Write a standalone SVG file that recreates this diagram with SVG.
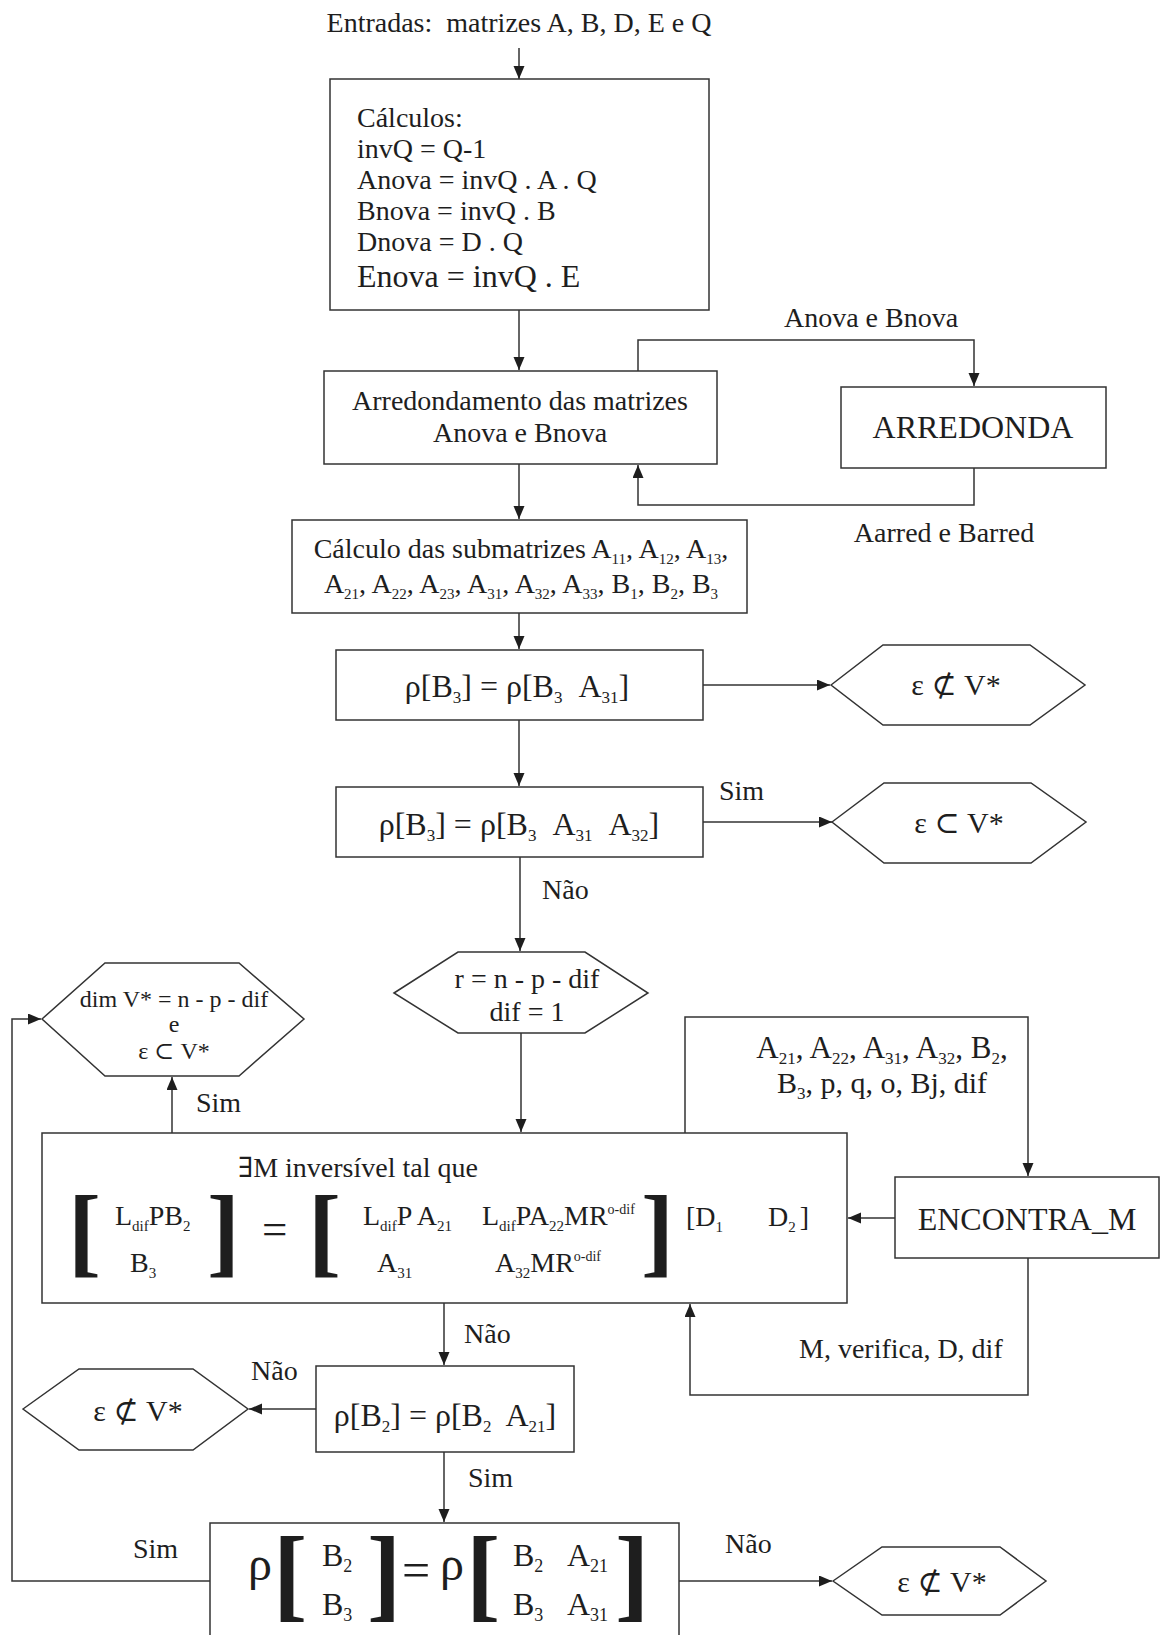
<svg xmlns="http://www.w3.org/2000/svg" width="1161" height="1635" viewBox="0 0 1161 1635">
<style>
svg{font-size:28px}
text{font-family:"Liberation Serif","DejaVu Serif",serif;fill:#1e1e1e}
.box{fill:#fff;stroke:#333;stroke-width:1.5}
.ln{fill:none;stroke:#333;stroke-width:1.5}
.br{font-weight:bold;font-size:99px}
.br2{font-weight:bold;font-size:103px}
.m{text-anchor:middle}
.rt{font-size:32px}
</style>
<defs>
<marker id="ah" markerUnits="userSpaceOnUse" markerWidth="14" markerHeight="12" refX="13" refY="5.5" orient="auto">
<path d="M0,0 L13,5.5 L0,11 z" fill="#1e1e1e"/>
</marker>
</defs>
<rect width="1161" height="1635" fill="#fff"/>

<g id="connectors">
<path class="ln" d="M519,48 V79" marker-end="url(#ah)"/>
<path class="ln" d="M519,310 V370" marker-end="url(#ah)"/>
<path class="ln" d="M638,371 V340 H974 V386" marker-end="url(#ah)"/>
<path class="ln" d="M974,468 V505 H638 V465" marker-end="url(#ah)"/>
<path class="ln" d="M519,464 V519" marker-end="url(#ah)"/>
<path class="ln" d="M519,613 V649" marker-end="url(#ah)"/>
<path class="ln" d="M703,685 H830" marker-end="url(#ah)"/>
<path class="ln" d="M519,720 V786" marker-end="url(#ah)"/>
<path class="ln" d="M703,822 H832" marker-end="url(#ah)"/>
<path class="ln" d="M520,857 V951" marker-end="url(#ah)"/>
<path class="ln" d="M521,1033 V1132" marker-end="url(#ah)"/>
<path class="ln" d="M172,1133 V1077" marker-end="url(#ah)"/>
<path class="ln" d="M685,1133 V1017 H1028 V1176" marker-end="url(#ah)"/>
<path class="ln" d="M895,1218 H848" marker-end="url(#ah)"/>
<path class="ln" d="M1028,1258 V1395 H690 V1304" marker-end="url(#ah)"/>
<path class="ln" d="M444,1303 V1365" marker-end="url(#ah)"/>
<path class="ln" d="M316,1409 H249" marker-end="url(#ah)"/>
<path class="ln" d="M444,1452 V1522" marker-end="url(#ah)"/>
<path class="ln" d="M210,1581 H12 V1019 H41" marker-end="url(#ah)"/>
<path class="ln" d="M679,1581 H832" marker-end="url(#ah)"/>
</g>

<g id="labels">
<text x="519" y="32" class="m" xml:space="preserve">Entradas:  matrizes A, B, D, E e Q</text>
<text x="871" y="327" class="m">Anova e Bnova</text>
<text x="944" y="542" class="m">Aarred e Barred</text>
<text x="719" y="800">Sim</text>
<text x="542" y="899">Não</text>
<text x="196" y="1112">Sim</text>
<text x="882" y="1058" class="m" font-size="31">A<tspan dy="6" font-size="17">21</tspan><tspan dy="-6">, A</tspan><tspan dy="6" font-size="17">22</tspan><tspan dy="-6">, A</tspan><tspan dy="6" font-size="17">31</tspan><tspan dy="-6">, A</tspan><tspan dy="6" font-size="17">32</tspan><tspan dy="-6">, B</tspan><tspan dy="6" font-size="17">2</tspan><tspan dy="-6">,</tspan></text>
<text x="882" y="1093" class="m" font-size="30">B<tspan dy="6" font-size="17">3</tspan><tspan dy="-6">, p, q, o, Bj, dif</tspan></text>
<text x="799" y="1358">M, verifica, D, dif</text>
<text x="464" y="1343">Não</text>
<text x="251" y="1380">Não</text>
<text x="468" y="1487">Sim</text>
<text x="133" y="1558">Sim</text>
<text x="725" y="1553">Não</text>
</g>

<g id="calculos">
<rect class="box" x="330" y="79" width="379" height="231"/>
<text x="357" y="127">Cálculos:</text>
<text x="357" y="158">invQ = Q-1</text>
<text x="357" y="189">Anova = invQ . A . Q</text>
<text x="357" y="220">Bnova = invQ . B</text>
<text x="357" y="251">Dnova = D . Q</text>
<text x="357" y="287" font-size="32">Enova = invQ . E</text>
</g>

<g id="arredondamento">
<rect class="box" x="324" y="371" width="393" height="93"/>
<text x="520" y="410" class="m">Arredondamento das matrizes</text>
<text x="520" y="442" class="m">Anova e Bnova</text>
</g>

<g id="arredonda">
<rect class="box" x="841" y="387" width="265" height="81"/>
<text x="973" y="438" class="m" font-size="32">ARREDONDA</text>
</g>

<g id="submatrizes">
<rect class="box" x="292" y="520" width="455" height="93"/>
<text x="521" y="558" class="m">Cálculo das submatrizes A<tspan dy="6" font-size="15">11</tspan><tspan dy="-6">, A</tspan><tspan dy="6" font-size="15">12</tspan><tspan dy="-6">, A</tspan><tspan dy="6" font-size="15">13</tspan><tspan dy="-6">,</tspan></text>
<text x="521" y="593" class="m">A<tspan dy="6" font-size="15">21</tspan><tspan dy="-6">, A</tspan><tspan dy="6" font-size="15">22</tspan><tspan dy="-6">, A</tspan><tspan dy="6" font-size="15">23</tspan><tspan dy="-6">, A</tspan><tspan dy="6" font-size="15">31</tspan><tspan dy="-6">, A</tspan><tspan dy="6" font-size="15">32</tspan><tspan dy="-6">, A</tspan><tspan dy="6" font-size="15">33</tspan><tspan dy="-6">, B</tspan><tspan dy="6" font-size="15">1</tspan><tspan dy="-6">, B</tspan><tspan dy="6" font-size="15">2</tspan><tspan dy="-6">, B</tspan><tspan dy="6" font-size="15">3</tspan></text>
</g>

<g id="teste1">
<rect class="box" x="336" y="650" width="367" height="70"/>
<text x="517" y="697" class="m rt">ρ[B<tspan dy="6" font-size="17">3</tspan><tspan dy="-6">] = ρ[B</tspan><tspan dy="6" font-size="17">3</tspan><tspan dy="-6" dx="16">A</tspan><tspan dy="6" font-size="17">31</tspan><tspan dy="-6">]</tspan></text>
</g>

<g id="fim1">
<polygon class="box" points="831,685 883,645 1030,645 1085,685 1030,725 883,725"/>
<text x="956" y="695" class="m" font-size="30">ε ⊄ V*</text>
</g>

<g id="teste2">
<rect class="box" x="336" y="787" width="367" height="70"/>
<text x="519" y="835" class="m rt">ρ[B<tspan dy="6" font-size="17">3</tspan><tspan dy="-6">] = ρ[B</tspan><tspan dy="6" font-size="17">3</tspan><tspan dy="-6" dx="16">A</tspan><tspan dy="6" font-size="17">31</tspan><tspan dy="-6" dx="16">A</tspan><tspan dy="6" font-size="17">32</tspan><tspan dy="-6">]</tspan></text>
</g>

<g id="fim2">
<polygon class="box" points="832,822 884,783 1031,783 1086,822 1031,863 884,863"/>
<text x="959" y="833" class="m" font-size="30">ε ⊂ V*</text>
</g>

<g id="inicio_r">
<polygon class="box" points="394,993 458,952 585,952 648,993 585,1033 458,1033"/>
<text x="527" y="988" class="m">r = n - p - dif</text>
<text x="527" y="1021" class="m">dif = 1</text>
</g>

<g id="dimV">
<polygon class="box" points="42,1019 105,963 239,963 304,1019 239,1076 105,1076"/>
<text x="174" y="1007" class="m" font-size="24">dim V* = n - p - dif</text>
<text x="174" y="1032" class="m" font-size="24">e</text>
<text x="174" y="1059" class="m" font-size="24">ε ⊂ V*</text>
</g>

<g id="existeM">
<rect class="box" x="42" y="1133" width="805" height="170"/>
<text x="238" y="1177">∃M inversível tal que</text>
<text class="br" x="68" y="1264">[</text>
<text class="br" x="207" y="1264">]</text>
<text x="115" y="1225">L<tspan dy="6" font-size="15">dif</tspan><tspan dy="-6">PB</tspan><tspan dy="6" font-size="15">2</tspan></text>
<text x="130" y="1272">B<tspan dy="6" font-size="15">3</tspan></text>
<text x="262" y="1244" font-size="45">=</text>
<text class="br" x="308" y="1264">[</text>
<text class="br" x="641" y="1264">]</text>
<text x="363" y="1225">L<tspan dy="6" font-size="15">dif</tspan><tspan dy="-6">P A</tspan><tspan dy="6" font-size="15">21</tspan></text>
<text x="482" y="1225">L<tspan dy="6" font-size="15">dif</tspan><tspan dy="-6">PA</tspan><tspan dy="6" font-size="15">22</tspan><tspan dy="-6">MR</tspan><tspan dy="-11" font-size="14">o-dif</tspan></text>
<text x="377" y="1272">A<tspan dy="6" font-size="15">31</tspan></text>
<text x="495" y="1272">A<tspan dy="6" font-size="15">32</tspan><tspan dy="-6">MR</tspan><tspan dy="-11" font-size="14">o-dif</tspan></text>
<text x="686" y="1226">[D<tspan dy="6" font-size="15">1</tspan></text>
<text x="768" y="1226">D<tspan dy="6" font-size="15">2</tspan><tspan dy="-6" dx="4">]</tspan></text>
</g>

<g id="encontra_m">
<rect class="box" x="895" y="1177" width="264" height="81"/>
<text x="1027" y="1230" class="m" font-size="32">ENCONTRA_M</text>
</g>

<g id="teste3">
<rect class="box" x="316" y="1366" width="258" height="86"/>
<text x="445" y="1426" class="m rt">ρ[B<tspan dy="6" font-size="17">2</tspan><tspan dy="-6">] = ρ[B</tspan><tspan dy="6" font-size="17">2</tspan><tspan dy="-6" dx="14">A</tspan><tspan dy="6" font-size="17">21</tspan><tspan dy="-6">]</tspan></text>
</g>

<g id="fim3">
<polygon class="box" points="23,1409 79,1369 193,1369 248,1409 193,1450 79,1450"/>
<text x="138" y="1421" class="m" font-size="30">ε ⊄ V*</text>
</g>

<g id="teste4">
<rect class="box" x="210" y="1523" width="469" height="150"/>
<text x="248" y="1580" font-size="48">ρ</text>
<text class="br2" x="273" y="1608">[</text>
<text x="322" y="1566" font-size="32">B<tspan dy="6" font-size="18">2</tspan></text>
<text x="322" y="1615" font-size="32">B<tspan dy="6" font-size="18">3</tspan></text>
<text class="br2" x="367" y="1608">]</text>
<text x="402" y="1587" font-size="50">=</text>
<text x="440" y="1580" font-size="48">ρ</text>
<text class="br2" x="466" y="1608">[</text>
<text x="513" y="1566" font-size="32">B<tspan dy="6" font-size="18">2</tspan></text>
<text x="567" y="1566" font-size="32">A<tspan dy="6" font-size="18">21</tspan></text>
<text x="513" y="1615" font-size="32">B<tspan dy="6" font-size="18">3</tspan></text>
<text x="567" y="1615" font-size="32">A<tspan dy="6" font-size="18">31</tspan></text>
<text class="br2" x="615" y="1608">]</text>
</g>

<g id="fim4">
<polygon class="box" points="833,1581 882,1547 1000,1547 1046,1581 1000,1615 882,1615"/>
<text x="942" y="1592" class="m" font-size="30">ε ⊄ V*</text>
</g>
</svg>
